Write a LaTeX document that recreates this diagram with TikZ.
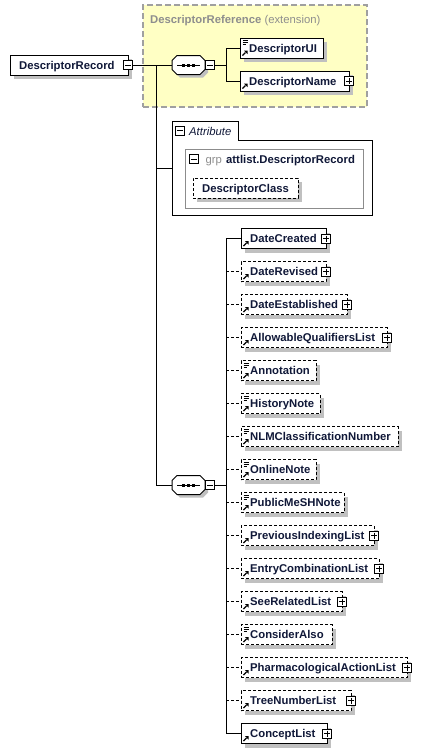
\documentclass[tikz,border=0pt]{standalone}
\usepackage{fontspec}
\setmainfont{Liberation Sans}
\usetikzlibrary{calc}
\definecolor{xsnavy}{HTML}{101838}
\definecolor{shadowgray}{HTML}{C0C0C0}
\definecolor{ylw}{HTML}{FFFFC4}
\definecolor{ybord}{HTML}{A0A0A0}
\definecolor{gtxt}{HTML}{8E8E8E}
\definecolor{grpgray}{HTML}{8C8C8C}
\tikzset{
 elembox/.style={draw=black, fill=white, line width=1pt, minimum height=20pt, inner sep=0pt, outer sep=0pt},
 dsh/.style={dash pattern=on 3pt off 2pt},
 elemtxt/.style={font=\fontsize{11.3}{13}\selectfont\bfseries, text=xsnavy, inner sep=0pt},
 plaintxt/.style={font=\fontsize{11.3}{13}\selectfont, inner sep=0pt},
 pmbox/.style={draw=black, fill=white, line width=1pt, minimum size=9pt, inner sep=0pt, outer sep=0pt},
 conn/.style={line width=1pt, draw=black},
 frame/.style={inner sep=0pt, outer sep=0pt},
}
% element box: [style]{name}{x}{cy}{width}{text}
\newcommand\xsElem[6][]{%
 \fill[shadowgray] (#3+4,#4-6) rectangle ++(#5,20);
 \node[elembox,#1,minimum width=#5,anchor=west] (#2) at (#3,#4) {};
 \node[elemtxt,anchor=base west] (#2-t) at (#3+9,#4+4) {#6};
}
\newcommand\xsRef[1]{%
 \draw[line width=1.1pt] ($(#1.south west)+(2.5,-2.5)$) -- ($(#1.south west)+(5.5,-5.5)$);
 \fill ($(#1.south west)+(7.5,-7.5)$) -- ($(#1.south west)+(3.8,-7.5)$) -- ($(#1.south west)+(7.5,-3.8)$) -- cycle;
}
\newcommand\xsSimp[1]{%
 \draw[line width=0.8pt] ($(#1.north west)+(2.5,2.5)$) -- ++(5,0);
 \draw[line width=0.8pt] ($(#1.north west)+(2.5,4.5)$) -- ++(5,0);
 \draw[line width=0.8pt] ($(#1.north west)+(2.5,6.5)$) -- ++(3.5,0);
}
\newcommand\xsPlus[1]{%
 \node[pmbox] (#1-p) at (#1.east) {};
 \draw[line width=1pt] ($(#1-p.center)+(-3,0)$) -- ($(#1-p.center)+(3,0)$);
 \draw[line width=1pt] ($(#1-p.center)+(0,-3)$) -- ($(#1-p.center)+(0,3)$);
}
% minus box: {name}{x}{y}
\newcommand\xsMinus[3]{%
 \node[pmbox] (#1) at (#2,#3) {};
 \draw[line width=1pt] ($(#1.center)+(-3,0)$) -- ($(#1.center)+(3,0)$);
}
% sequence compositor: {name}{x}{cy}
\newcommand\xsSeq[3]{%
 \fill[shadowgray] (#2+8,#3-6.5) -- (#2+31,#3-6.5) -- (#2+36,#3-1.5) -- (#2+36,#3+7.5) -- (#2+31,#3+12.5) -- (#2+8,#3+12.5) -- (#2+3,#3+7.5) -- (#2+3,#3-1.5) -- cycle;
 \node[frame, minimum width=33pt, minimum height=19pt, anchor=west] (#1) at (#2,#3) {};
 \draw[line width=1pt, fill=white] (#2+5,#3-9.5) -- (#2+28,#3-9.5) -- (#2+33,#3-4.5) -- (#2+33,#3+4.5) -- (#2+28,#3+9.5) -- (#2+5,#3+9.5) -- (#2,#3+4.5) -- (#2,#3-4.5) -- cycle;
 \draw[line width=1pt] (#2+5,#3) -- (#2+28,#3);
 \foreach \d in {11,16,21} \fill (#2+\d-1.5,#3-1.5) rectangle ++(3,3);
 \xsMinus{#1-m}{#2+38}{#3}
}
\begin{document}
\begin{tikzpicture}[x=1pt,y=-1pt]
\useasboundingbox (0,0) rectangle (435,753);
\fill[white] (0,0) rectangle (435,753);

% extension box
\node[frame, fill=ylw, draw=ybord, dash pattern=on 6pt off 3pt, line width=1.2pt, minimum width=224pt, minimum height=102pt, anchor=north west] (ext) at (143,5) {};
\node[plaintxt, text=gtxt, anchor=base west] (ext-l) at (150,23.5) {\bfseries DescriptorReference \mdseries(extension)};

% root
\xsElem{rec}{10}{65}{118}{DescriptorRecord}
\xsMinus{rec-m}{128}{65}

% first sequence
\xsSeq{seq1}{172}{65}
\xsElem{dui}{240}{48}{83}{DescriptorUI}
\xsSimp{dui}\xsRef{dui}
\xsElem{dname}{240}{81}{109}{DescriptorName}
\xsRef{dname}\xsPlus{dname}

% attribute box
\node[frame, minimum width=200pt, minimum height=94pt, anchor=north west] (attr) at (172,121) {};
\draw[line width=1pt, fill=white] (attr.south west) -- (attr.north west) -- (238,121) -- (238,140) -- (372,140) -- (attr.south east) -- cycle;
\xsMinus{attr-m}{180}{130.5}
\node[plaintxt, font=\fontsize{11.3}{13}\selectfont\itshape, text=xsnavy, anchor=base west] (attr-t) at (189,135) {Attribute};
\node[frame, draw=grpgray, line width=1pt, minimum width=178pt, minimum height=59pt, anchor=north west] (grp) at (185,149) {};
\xsMinus{grp-m}{194}{159}
\node[plaintxt, text=gtxt, anchor=base west] (grp-k) at (205.5,163) {grp};
\node[elemtxt, anchor=base west] (grp-t) at (226,163) {attlist.DescriptorRecord};
\xsElem[dsh]{dclass}{193}{188}{105}{DescriptorClass}

% second sequence
\xsSeq{seq2}{172}{485}
\xsElem{c0}{241}{238.5}{85}{DateCreated}
\xsElem[dsh]{c1}{241}{271.5}{85}{DateRevised}
\xsElem[dsh]{c2}{241}{304.5}{106}{DateEstablished}
\xsElem[dsh]{c3}{241}{337.5}{146}{AllowableQualifiersList}
\xsElem[dsh]{c4}{241}{370.5}{75}{Annotation}
\xsElem[dsh]{c5}{241}{403.5}{79}{HistoryNote}
\xsElem[dsh]{c6}{241}{436.5}{157}{NLMClassificationNumber}
\xsElem[dsh]{c7}{241}{469.5}{75}{OnlineNote}
\xsElem[dsh]{c8}{241}{502.5}{103}{PublicMeSHNote}
\xsElem[dsh]{c9}{241}{535.5}{133}{PreviousIndexingList}
\xsElem[dsh]{c10}{241}{568.5}{138}{EntryCombinationList}
\xsElem[dsh]{c11}{241}{601.5}{101}{SeeRelatedList}
\xsElem[dsh]{c12}{241}{634.5}{91}{ConsiderAlso}
\xsElem[dsh]{c13}{241}{667.5}{166}{PharmacologicalActionList}
\xsElem[dsh]{c14}{241}{700.5}{110}{TreeNumberList}
\xsElem{c15}{241}{733.5}{86}{ConceptList}
\foreach \i in {0,...,15} {\xsRef{c\i}}
\foreach \i in {4,5,6,7,8,12} {\xsSimp{c\i}}
\foreach \i in {0,1,2,3,9,10,11,13,14,15} {\xsPlus{c\i}}

% connectors
\coordinate (trunk) at (156,0);
\coordinate (sp1) at (226,0);
\coordinate (sp2) at (226,0);
\draw[conn] (rec-m.east) -- (seq1.west);
\draw[conn] (rec-m.east -| trunk) -- (seq2.west -| trunk) -- (seq2.west);
\draw[conn] (attr.west -| trunk) -- (attr.west);
\draw[conn] (seq1-m.east) -- (seq1-m.east -| sp1);
\draw[conn] (dui.west -| sp1) -- (dname.west -| sp1);
\draw[conn] (dui.west -| sp1) -- (dui.west);
\draw[conn] (dname.west -| sp1) -- (dname.west);
\draw[conn] (seq2-m.east) -- (seq2-m.east -| sp2);
\draw[conn] (c0.west -| sp2) -- (c15.west -| sp2);
\draw[conn] (c0.west -| sp2) -- (c0.west);
\draw[conn] (c15.west -| sp2) -- (c15.west);
\foreach \i in {1,...,14} {\draw[conn,dsh] (c\i.west -| sp2) -- (c\i.west);}
\end{tikzpicture}
\end{document}
